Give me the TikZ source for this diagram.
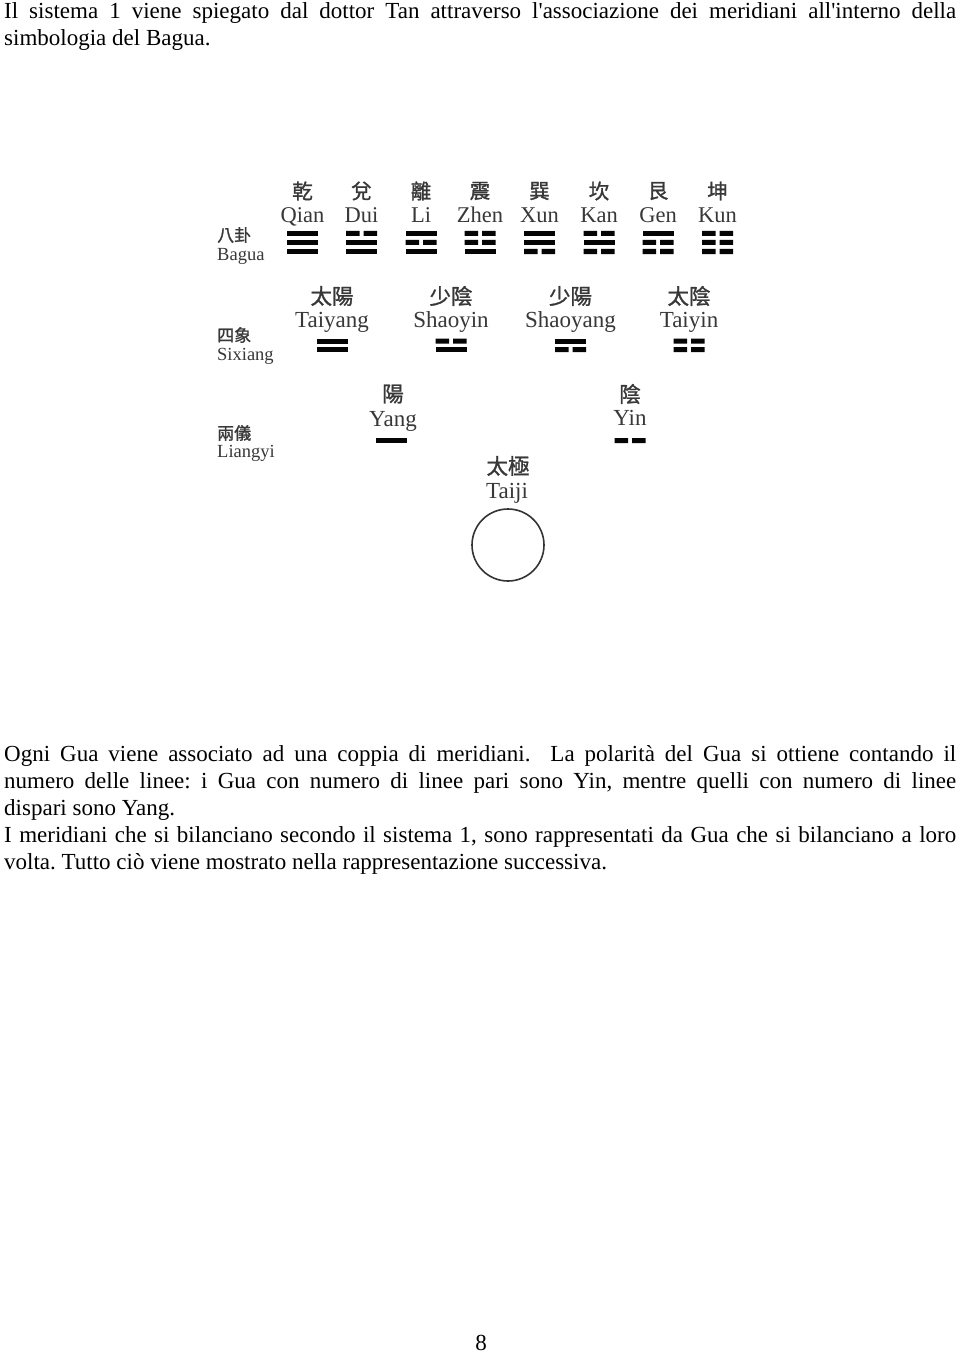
\documentclass[tikz,border=0pt]{standalone}
\usepackage{fontspec}
\setmainfont{Liberation Serif}
\newfontfamily\cjk{Noto Sans CJK TC}[FakeBold=1.2]
\definecolor{dg}{gray}{0.22}
\definecolor{barc}{gray}{0.02}
\tikzset{
  body/.style={anchor=base west, inner sep=0pt, font=\frenchspacing\fontsize{23}{27}\selectfont},
  cnbig/.style={inner sep=0pt, text=dg, font=\cjk\fontsize{20.5}{20.5}\selectfont},
  cnmid/.style={inner sep=0pt, text=dg, font=\cjk\fontsize{21.5}{21.5}\selectfont},
  cnsmall/.style={anchor=west, inner sep=0pt, text=dg, font=\cjk\fontsize{17}{17}\selectfont},
  py/.style={anchor=base, inner sep=0pt, text=dg, font=\fontsize{22.5}{22.5}\selectfont},
  pybig/.style={anchor=base, inner sep=0pt, text=dg, font=\fontsize{23}{23}\selectfont},
  pysmall/.style={anchor=base west, inner sep=0pt, text=dg, font=\fontsize{18.5}{18.5}\selectfont},
}
\newcommand\gS[2]{\fill[barc] ({#1-15.5},{#2-2.5}) rectangle ({#1+15.5},{#2+2.5});}
\newcommand\gB[2]{\fill[barc] ({#1-15.5},{#2-2.5}) rectangle ({#1-2},{#2+2.5}) ({#1+2},{#2-2.5}) rectangle ({#1+15.5},{#2+2.5});}
\newcommand\trig[4]{\csname g#2\endcsname{#1}{233.5}\csname g#3\endcsname{#1}{242.5}\csname g#4\endcsname{#1}{251.5}}
\newcommand\digr[3]{\csname g#2\endcsname{#1}{341}\csname g#3\endcsname{#1}{349.5}}
\newcommand\jline[1]{\makebox[952pt][s]{#1}}
\begin{document}
\begin{tikzpicture}[x=1pt,y=-1pt]
\useasboundingbox[fill=white] (0,0) rectangle (960,1356);
% top text
\node[body] (t1) at (4,19) {\jline{Il sistema 1 viene spiegato dal dottor Tan attraverso l\textquotesingle associazione dei meridiani all\textquotesingle interno della}};
\node[body] (t2) at (4,46) {simbologia del Bagua.};
% Bagua row
\node[cnsmall] (lb1) at (217,235) {八卦};
\node[pysmall] (lb2) at (217,260) {Bagua};
\foreach \x/\c/\p [count=\i] in {302.5/乾/Qian,361.5/兌/Dui,421/離/Li,480/震/Zhen,539.5/巽/Xun,599/坎/Kan,658/艮/Gen,717.5/坤/Kun}{
  \node[cnbig] (bc\i) at (\x,191) {\c};
  \node[py] (bp\i) at (\x,223) {\p};
}
\trig{302.5}{S}{S}{S}
\trig{361.5}{B}{S}{S}
\trig{421}{S}{B}{S}
\trig{480}{B}{B}{S}
\trig{539.5}{S}{S}{B}
\trig{599}{B}{S}{B}
\trig{658}{S}{B}{B}
\trig{717.5}{B}{B}{B}
% Sixiang row
\node[cnsmall] (ls1) at (217,335) {四象};
\node[pysmall] (ls2) at (217,360) {Sixiang};
\foreach \x/\c/\p [count=\i] in {332/太陽/Taiyang,451/少陰/Shaoyin,570.5/少陽/Shaoyang,689/太陰/Taiyin}{
  \node[cnmid] (sc\i) at (\x,296) {\c};
  \node[pybig] (sp\i) at (\x,327) {\p};
}
\digr{332}{S}{S}
\digr{451}{B}{S}
\digr{570.5}{S}{B}
\digr{689}{B}{B}
% Liangyi row
\node[cnsmall] (ll1) at (217,433) {兩儀};
\node[pysmall] (ll2) at (217,457) {Liangyi};
\node[cnmid] (yc) at (393,394) {陽};
\node[pybig] (yp) at (393,426) {Yang};
\node[cnmid] (nc) at (630,394) {陰};
\node[pybig] (np) at (630,425) {Yin};
\gS{391}{440.5}
\gB{630}{440.5}
% Taiji
\node[cnmid] (tc) at (508,466) {太極};
\node[pybig] (tp) at (507,498) {Taiji};
\draw[line width=1.6pt, draw=black!80] (508,545) circle[radius=36pt];
% lower text
\node[body] (p1) at (4,761) {\jline{Ogni Gua viene associato ad una coppia di meridiani.\ \ La polarità del Gua si ottiene contando il}};
\node[body] (p2) at (4,788) {\jline{numero delle linee: i Gua con numero di linee pari sono Yin, mentre quelli con numero di linee}};
\node[body] (p3) at (4,815) {dispari sono Yang.};
\node[body] (p4) at (4,842) {\jline{I meridiani che si bilanciano secondo il sistema 1, sono rappresentati da Gua che si bilanciano a loro}};
\node[body] (p5) at (4,869) {volta. Tutto ciò viene mostrato nella rappresentazione successiva.};
\node[anchor=base, inner sep=0pt, font=\fontsize{23}{27}\selectfont] (pg) at (481,1350) {8};
\end{tikzpicture}
\end{document}
